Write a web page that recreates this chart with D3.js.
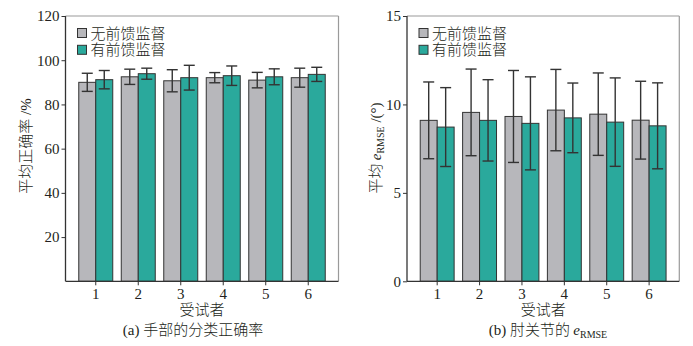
<!DOCTYPE html>
<html><head><meta charset="utf-8">
<script src="https://cdn.jsdelivr.net/npm/d3@7"></script>
<style>
body{margin:0;background:#fff;}
text{font-family:"Liberation Serif","Noto Sans CJK SC",serif;fill:#231f20;}
.cjk{font-family:"Noto Sans CJK SC";font-weight:300;}
</style></head>
<body><svg id="c" width="693" height="346"></svg>
<script>
const subjects = ["1","2","3","4","5","6"];
const seriesNames = ["无前馈监督","有前馈监督"];
const seriesColors = ["#b7b7bb","#2aa99c"];

// (a) accuracy %
const accNoFB = [90.0, 92.5, 90.7, 92.1, 91.0, 92.1];
const accNoFBErr = [4.1, 3.45, 5.0, 2.3, 3.5, 4.3];
const accFB = [91.2, 93.9, 92.1, 93.0, 92.5, 93.6];
const accFBErr = [4.15, 2.5, 5.6, 4.4, 3.6, 3.2];
const accTicks = [20, 40, 60, 80, 100, 120];

// (b) RMSE
const rmseNoFB = [9.10, 9.55, 9.32, 9.68, 9.45, 9.11];
const rmseNoFBErr = [2.17, 2.45, 2.6, 2.3, 2.33, 2.2];
const rmseFB = [8.72, 9.10, 8.93, 9.24, 9.00, 8.79];
const rmseFBErr = [2.23, 2.3, 2.63, 1.97, 2.5, 2.43];
const rmseTicks = [0, 5, 10, 15];

const svg = d3.select("#c");

function panel(opt){
  const {x0,x1,y0,y1,ymax,ticks,vals,errs} = opt;
  const g = svg.append("g");
  const x = d3.scaleBand().domain(subjects).range([x0,x1]).paddingInner(0.2).paddingOuter(0.312);
  const xs = d3.scaleBand().domain([0,1]).range([0,x.bandwidth()]);
  const y = d3.scaleLinear().domain([0,ymax]).range([y0,y1]);

  g.append("line").attr("x1",x0).attr("x2",x1).attr("y1",y1).attr("y2",y1).attr("stroke","#9a9a9a").attr("stroke-width",1.2);
  g.append("line").attr("x1",x1).attr("x2",x1).attr("y1",y1).attr("y2",y0).attr("stroke","#9a9a9a").attr("stroke-width",1.2);

  const data = [];
  subjects.forEach((s,i)=>{ [0,1].forEach(k=>data.push({s,k,v:vals[k][i],e:errs[k][i]})); });
  g.selectAll("rect.bar").data(data).join("rect").attr("class","bar")
    .attr("x",d=>x(d.s)+xs(d.k)).attr("width",xs.bandwidth())
    .attr("y",d=>y(d.v)).attr("height",d=>y(0)-y(d.v))
    .attr("fill",d=>seriesColors[d.k]).attr("stroke","#333").attr("stroke-width",1);

  const cap = 5.5;
  const cxf = d=>x(d.s)+xs(d.k)+xs.bandwidth()/2;
  const eg = g.selectAll("g.err").data(data).join("g").attr("class","err")
    .attr("stroke","#333").attr("stroke-width",1.4);
  eg.append("line").attr("x1",cxf).attr("x2",cxf).attr("y1",d=>y(d.v+d.e)).attr("y2",d=>y(d.v-d.e));
  eg.append("line").attr("x1",d=>cxf(d)-cap).attr("x2",d=>cxf(d)+cap).attr("y1",d=>y(d.v+d.e)).attr("y2",d=>y(d.v+d.e));
  eg.append("line").attr("x1",d=>cxf(d)-cap).attr("x2",d=>cxf(d)+cap).attr("y1",d=>y(d.v-d.e)).attr("y2",d=>y(d.v-d.e));

  const ya = g.append("g").attr("transform",`translate(${x0},0)`)
    .call(d3.axisLeft(y).tickValues(ticks).tickSize(4).tickPadding(2).tickSizeOuter(0));
  ya.select(".domain").attr("stroke","#333").attr("stroke-width",1.3).attr("d",`M0,${y0}V${y1}`);
  ya.selectAll(".tick line").attr("stroke","#333");
  ya.selectAll("text").attr("font-size",15).attr("font-family","Liberation Serif").attr("fill","#231f20");

  const xa = g.append("g").attr("transform",`translate(0,${y0})`)
    .call(d3.axisBottom(x).tickSize(4).tickPadding(3).tickSizeOuter(0));
  xa.select(".domain").attr("stroke","#333").attr("stroke-width",1.3).attr("d",`M${x0},0H${x1}`);
  xa.selectAll(".tick line").attr("stroke","#333");
  xa.selectAll("text").attr("font-size",15).attr("font-family","Liberation Serif").attr("fill","#231f20");

  seriesNames.forEach((n,k)=>{
    const cy = y1 + 17 + k*16.8;
    g.append("rect").attr("x",x0+12).attr("y",cy-4.5).attr("width",9).attr("height",9)
      .attr("fill",seriesColors[k]).attr("stroke","#333").attr("stroke-width",1);
    g.append("text").attr("class","cjk").attr("x",x0+25).attr("y",cy+5.5).attr("font-size",15).text(n);
  });

  const cx = (x0+x1)/2;
  g.append("text").attr("class","cjk").attr("x",cx).attr("y",315).attr("text-anchor","middle").attr("font-size",15).text("受试者");
  return {g,cx};
}

panel({x0:65.5,x1:338.5,y0:281.3,y1:16,ymax:120,ticks:accTicks,
  vals:[accNoFB,accFB],errs:[accNoFBErr,accFBErr]});
panel({x0:407,x1:679.3,y0:281.3,y1:16,ymax:15,ticks:rmseTicks,
  vals:[rmseNoFB,rmseFB],errs:[rmseNoFBErr,rmseFBErr]});

const ta = svg.append("text").attr("transform","translate(31,146) rotate(-90)")
  .attr("text-anchor","middle").attr("font-size",15);
ta.append("tspan").attr("class","cjk").text("平均正确率");
ta.append("tspan").text(" /%");

const tb = svg.append("text").attr("transform","translate(381,148) rotate(-90)")
  .attr("text-anchor","middle").attr("font-size",15);
tb.append("tspan").attr("class","cjk").text("平均 ");
tb.append("tspan").attr("font-style","italic").text("e");
tb.append("tspan").attr("font-size",10).attr("dy",3).text("RMSE");
tb.append("tspan").attr("dy",-3).text(" /(°)");

const ca = svg.append("text").attr("x",193).attr("y",335).attr("text-anchor","middle").attr("font-size",15);
ca.append("tspan").text("(a) ");
ca.append("tspan").attr("class","cjk").text("手部的分类正确率");

const cb = svg.append("text").attr("x",548).attr("y",335).attr("text-anchor","middle").attr("font-size",15);
cb.append("tspan").text("(b) ");
cb.append("tspan").attr("class","cjk").text("肘关节的 ");
cb.append("tspan").attr("font-style","italic").text("e");
cb.append("tspan").attr("font-size",10).attr("dy",3).text("RMSE");
</script></body></html>
